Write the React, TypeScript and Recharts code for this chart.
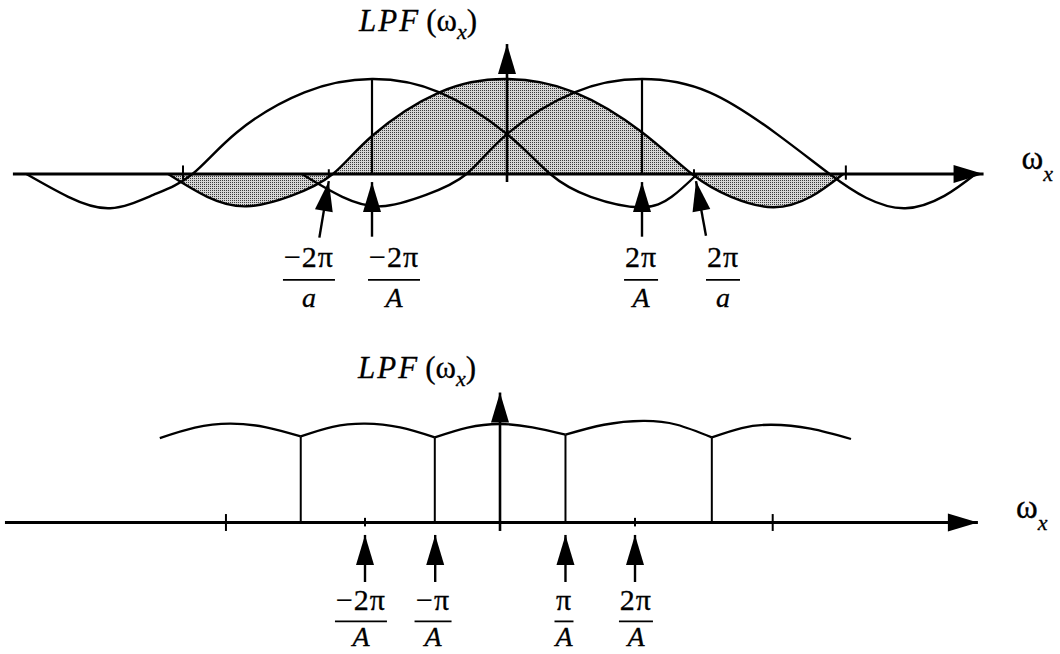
import React from 'react';
import { ComposedChart, Line, Area, Scatter, XAxis, YAxis, ReferenceLine } from 'recharts';

type Pt = { x: number; y: number };
type Frac = { x: number; num: string; den: string };

// x is measured in units of 2π/A, y in units of the lobe peak

// ---- upper panel: three shifted lobes, the centre one shaded ----
const lobeLeft: Pt[] = [
  { x: -3.56, y: 0 }, { x: -3.25, y: -0.24 }, { x: -2.94, y: -0.36 }, { x: -2.62, y: -0.22 },
  { x: -2.33, y: 0 }, { x: -2.0, y: 0.44 }, { x: -1.5, y: 0.86 }, { x: -1.0, y: 1 },
  { x: -0.5, y: 0.86 }, { x: 0, y: 0.42 }, { x: 0.32, y: 0 }, { x: 0.62, y: -0.24 },
  { x: 0.99, y: -0.35 }, { x: 1.22, y: -0.24 }, { x: 1.41, y: 0 },
];
const lobeCentre: Pt[] = [
  { x: -2.51, y: 0 }, { x: -2.22, y: -0.24 }, { x: -1.93, y: -0.34 }, { x: -1.6, y: -0.23 },
  { x: -1.29, y: 0 }, { x: -1.0, y: 0.4 }, { x: -0.5, y: 0.86 }, { x: 0, y: 1 },
  { x: 0.5, y: 0.86 }, { x: 1.0, y: 0.44 }, { x: 1.37, y: 0 }, { x: 1.66, y: -0.24 },
  { x: 1.97, y: -0.35 }, { x: 2.25, y: -0.24 }, { x: 2.49, y: 0 },
];
const lobeRight: Pt[] = [
  { x: -1.52, y: 0 }, { x: -1.22, y: -0.24 }, { x: -0.93, y: -0.34 }, { x: -0.6, y: -0.22 },
  { x: -0.3, y: 0 }, { x: 0, y: 0.42 }, { x: 0.5, y: 0.86 }, { x: 1.0, y: 1 },
  { x: 1.5, y: 0.86 }, { x: 2.0, y: 0.42 }, { x: 2.39, y: 0 }, { x: 2.66, y: -0.25 },
  { x: 2.95, y: -0.36 }, { x: 3.24, y: -0.23 }, { x: 3.47, y: 0 },
];
const topStems: Pt[] = [{ x: -1, y: 1 }, { x: 1, y: 1 }];
const topMajorTicks = [-2.4, 2.51];
const topMinorTicks = [-1.32, 1.385];
const topAxis: Pt[] = [{ x: -3.66, y: 0 }, { x: 3.53, y: 0 }];
const topUpArrow: Pt[] = [{ x: 0, y: -0.084 }, { x: 0, y: 1.368 }];
// pointers under the axis, tail first
const topPointers: Pt[][] = [
  [{ x: -1.39, y: -0.67 }, { x: -1.32, y: -0.075 }],
  [{ x: -1, y: -0.66 }, { x: -1, y: -0.085 }],
  [{ x: 1, y: -0.66 }, { x: 1, y: -0.085 }],
  [{ x: 1.474, y: -0.65 }, { x: 1.4, y: -0.075 }],
];
const topFractions: Frac[] = [
  { x: -1.467, num: '−2π', den: 'a' },
  { x: -0.837, num: '−2π', den: 'A' },
  { x: 0.993, num: '2π', den: 'A' },
  { x: 1.6, num: '2π', den: 'a' },
];

// ---- lower panel: scalloped passband ----
const arcs: Pt[][] = [
  [{ x: -2.52, y: 0.89 }, { x: -2.26, y: 1.0 }, { x: -2.0, y: 1.042 }, { x: -1.74, y: 1.005 }, { x: -1.476, y: 0.907 }],
  [{ x: -1.476, y: 0.907 }, { x: -1.24, y: 1.008 }, { x: -1.0, y: 1.042 }, { x: -0.74, y: 1.002 }, { x: -0.483, y: 0.897 }],
  [{ x: -0.483, y: 0.897 }, { x: -0.24, y: 1.0 }, { x: 0, y: 1.038 }, { x: 0.24, y: 1.002 }, { x: 0.485, y: 0.925 }],
  [{ x: 0.485, y: 0.925 }, { x: 0.77, y: 1.03 }, { x: 1.06, y: 1.07 }, { x: 1.31, y: 1.03 }, { x: 1.569, y: 0.897 }],
  [{ x: 1.569, y: 0.897 }, { x: 1.79, y: 0.995 }, { x: 2.01, y: 1.03 }, { x: 2.3, y: 0.99 }, { x: 2.6, y: 0.88 }],
];
const bottomStems: Pt[] = [
  { x: -1.476, y: 0.907 }, { x: -0.483, y: 0.897 }, { x: 0.485, y: 0.925 }, { x: 1.569, y: 0.897 },
];
const bottomMajorTicks = [-2.03, 2.02];
const bottomMinorTicks = [-1.0, 1.0];
const bottomAxis: Pt[] = [{ x: -3.667, y: 0 }, { x: 3.54, y: 0 }];
const bottomUpArrow: Pt[] = [{ x: 0, y: -0.088 }, { x: 0, y: 1.369 }];
const bottomPointers: Pt[][] = [
  [{ x: -1.0, y: -0.625 }, { x: -1.0, y: -0.13 }],
  [{ x: -0.48, y: -0.625 }, { x: -0.48, y: -0.13 }],
  [{ x: 0.485, y: -0.625 }, { x: 0.485, y: -0.13 }],
  [{ x: 1.0, y: -0.625 }, { x: 1.0, y: -0.13 }],
];
const bottomFractions: Frac[] = [
  { x: -1.03, num: '−2π', den: 'A' },
  { x: -0.496, num: '−π', den: 'A' },
  { x: 0.474, num: 'π', den: 'A' },
  { x: 1.007, num: '2π', den: 'A' },
];

const INK = '#000';
const FONT = '"Liberation Serif", "Times New Roman", serif';
const W = 1060;
const TOP_H = 330;
const BOTTOM_H = 324;
const TOP_LABEL_ROW = -1.115;
const BOTTOM_LABEL_ROW = -1.04;
const LABEL_SIZE = 30;
const TEXT_STROKE = 0.3;

const glyphWidth: Record<string, number> = { '−': 18, '2': 15, 'π': 19 };
const barWidth = (s: string) => s.split('').reduce((w, c) => w + (glyphWidth[c] ?? 15), 0);

// filled triangle at the last point of a two-point line
const arrowTip = (p: any) => {
  const { cx, cy, index, points } = p;
  const k = `tip-${index}`;
  if (!points || index !== points.length - 1) return <g key={k} />;
  const prev = points[index - 1];
  const ang = Math.atan2(cy - prev.y, cx - prev.x);
  const len = 30;
  const half = 9;
  const bx = cx - len * Math.cos(ang);
  const by = cy - len * Math.sin(ang);
  const nx = -Math.sin(ang) * half;
  const ny = Math.cos(ang) * half;
  return <polygon key={k} points={`${cx},${cy} ${bx + nx},${by + ny} ${bx - nx},${by - ny}`} fill={INK} />;
};

const makeFraction = (numGap: number, denGap: number) => (p: any) => {
  const { cx, cy, payload } = p;
  const w = barWidth(payload.num);
  return (
    <g fontFamily={FONT} fill={INK} stroke={INK} strokeWidth={TEXT_STROKE}>
      <text x={cx} y={cy - numGap} textAnchor="middle" fontSize={LABEL_SIZE} letterSpacing={1}>{payload.num}</text>
      <line x1={cx - w / 2} x2={cx + w / 2} y1={cy} y2={cy} strokeWidth={1.8} />
      <text x={cx} y={cy + denGap} textAnchor="middle" fontSize={LABEL_SIZE - 2} fontStyle="italic">{payload.den}</text>
    </g>
  );
};

const makeTitle = (dx: number, dy: number) => (p: any) => {
  const { cx, cy } = p;
  return (
    <text x={cx + dx} y={cy + dy} textAnchor="end" fontFamily={FONT} fontSize={31} fill={INK} stroke={INK} strokeWidth={TEXT_STROKE}>
      <tspan fontStyle="italic" letterSpacing={2}>LPF</tspan>
      <tspan dx={6}>(ω</tspan>
      <tspan fontStyle="italic" fontSize={22} dy={8}>x</tspan>
      <tspan dy={-8}>)</tspan>
    </text>
  );
};

const OmegaLabel = (p: any) => {
  const { cx, cy } = p;
  return (
    <text x={cx + 38} y={cy - 5} fontFamily={FONT} fontSize={33} fill={INK} stroke={INK} strokeWidth={TEXT_STROKE}>
      ω<tspan fontStyle="italic" fontSize={22} dy={12}>x</tspan>
    </text>
  );
};

const tickLines = (xs: number[], lo: number, hi: number, key: string) =>
  xs.map((x) => (
    <ReferenceLine key={`${key}-${x}`} segment={[{ x, y: lo }, { x, y: hi }]} stroke={INK} strokeWidth={2} ifOverflow="visible" />
  ));

const stemLines = (pts: Pt[], key: string, width: number) =>
  pts.map((s) => (
    <ReferenceLine key={`${key}-${s.x}`} segment={[{ x: s.x, y: 0 }, { x: s.x, y: s.y }]} stroke={INK} strokeWidth={width} ifOverflow="visible" />
  ));

const arrowLine = (pts: Pt[], key: string, width: number) => (
  <Line
    key={key}
    data={pts}
    dataKey="y"
    type="linear"
    stroke={INK}
    strokeWidth={width}
    dot={arrowTip}
    activeDot={false}
    legendType="none"
    isAnimationActive={false}
  />
);

const TopPanel = () => (
  <ComposedChart width={W} height={TOP_H} margin={{ top: 0, right: 0, bottom: 0, left: 0 }}>
    <defs>
      <pattern id="stipple" width="2" height="2" patternUnits="userSpaceOnUse">
        <rect width="2" height="2" fill="#d6d6d6" />
        <rect width="1" height="1" fill="#3a3a3a" />
      </pattern>
    </defs>
    <XAxis type="number" dataKey="x" domain={[-3.7556, 4.0963]} allowDataOverflow hide />
    <YAxis type="number" dataKey="y" domain={[-1.642, 1.8316]} allowDataOverflow hide />
    <Area
      data={lobeCentre}
      dataKey="y"
      type="natural"
      baseValue={0}
      stroke={INK}
      strokeWidth={2.4}
      fill="url(#stipple)"
      fillOpacity={1}
      dot={false}
      activeDot={false}
      isAnimationActive={false}
    />
    <Line data={lobeLeft} dataKey="y" type="natural" stroke={INK} strokeWidth={2.4} dot={false} activeDot={false} isAnimationActive={false} />
    <Line data={lobeRight} dataKey="y" type="natural" stroke={INK} strokeWidth={2.4} dot={false} activeDot={false} isAnimationActive={false} />
    {stemLines(topStems, 'ts', 2.2)}
    {tickLines(topMajorTicks, -0.06, 0.09, 'tM')}
    {tickLines(topMinorTicks, -0.03, 0.05, 'tm')}
    {arrowLine(topAxis, 'taxis', 3)}
    {arrowLine(topUpArrow, 'tup', 2.6)}
    {topPointers.map((a, i) => arrowLine(a, `tp-${i}`, 2.4))}
    <Scatter
      data={topFractions.map((f) => ({ ...f, y: TOP_LABEL_ROW }))}
      shape={makeFraction(13, 27)}
      isAnimationActive={false}
    />
    <Scatter data={[topUpArrow[1]]} shape={makeTitle(-30, -13)} isAnimationActive={false} />
    <Scatter data={[topAxis[1]]} shape={OmegaLabel} isAnimationActive={false} />
  </ComposedChart>
);

const BottomPanel = () => (
  <ComposedChart width={W} height={BOTTOM_H} margin={{ top: 0, right: 0, bottom: 0, left: 0 }}>
    <XAxis type="number" dataKey="x" domain={[-3.7037, 4.1481]} allowDataOverflow hide />
    <YAxis type="number" dataKey="y" domain={[-1.3832, 2.0274]} allowDataOverflow hide />
    {arcs.map((a, i) => (
      <Line key={`arc-${i}`} data={a} dataKey="y" type="natural" stroke={INK} strokeWidth={2.3} dot={false} activeDot={false} isAnimationActive={false} />
    ))}
    {stemLines(bottomStems, 'bs', 2)}
    {tickLines(bottomMajorTicks, -0.088, 0.09, 'bM')}
    {tickLines(bottomMinorTicks, -0.04, 0.05, 'bm')}
    {arrowLine(bottomAxis, 'baxis', 3)}
    {arrowLine(bottomUpArrow, 'bup', 2.6)}
    {bottomPointers.map((a, i) => arrowLine(a, `bp-${i}`, 2.4))}
    <Scatter
      data={bottomFractions.map((f) => ({ ...f, y: BOTTOM_LABEL_ROW }))}
      shape={makeFraction(11, 25)}
      isAnimationActive={false}
    />
    <Scatter data={[bottomUpArrow[1]]} shape={makeTitle(-24, -15)} isAnimationActive={false} />
    <Scatter data={[bottomAxis[1]]} shape={OmegaLabel} isAnimationActive={false} />
  </ComposedChart>
);

export default function App() {
  return (
    <div style={{ position: 'fixed', left: 0, top: 0, width: W, height: TOP_H + BOTTOM_H, background: '#fff', overflow: 'hidden' }}>
      <div style={{ position: 'absolute', left: 0, top: 0 }}>
        <TopPanel />
      </div>
      <div style={{ position: 'absolute', left: 0, top: TOP_H }}>
        <BottomPanel />
      </div>
    </div>
  );
}
